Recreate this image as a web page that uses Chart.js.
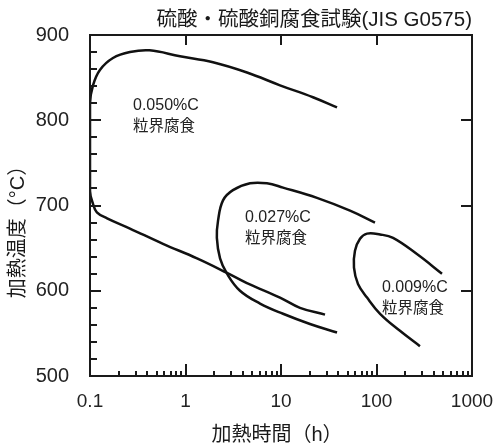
<!DOCTYPE html>
<html>
<head>
<meta charset="utf-8">
<script src="https://cdn.jsdelivr.net/npm/chart.js@4.4.0/dist/chart.umd.min.js"></script>
<style>
  html, body { margin: 0; padding: 0; background: #fff; }
  #wrap { width: 496px; height: 445px; }
</style>
</head>
<body>
<div id="wrap"><canvas id="c" width="496" height="445"></canvas></div>
<script>
// Axis ticks
const timeTicks = [0.1, 1, 10, 100, 1000];
const tempTicks = [500, 600, 700, 800, 900];

// Sensitization (C-curve) boundaries
const c050Time = [38.6, 21.6, 9.76, 4.4, 1.94, 0.876, 0.42, 0.262, 0.174, 0.127, 0.1075, 0.1, 0.1, 0.1075, 0.118, 0.151, 0.262, 0.581, 1.32, 2.72, 4.4, 9.76, 15.8, 28.9];
const c050Temp = [815, 827, 841, 856, 868, 875, 882, 880, 873, 859, 841, 820, 717, 702, 692, 685, 673, 655, 638, 621, 609, 592, 580, 572];

const c027Time = [96.4, 52.8, 23.8, 10.5, 7.13, 4.74, 3.14, 2.47, 2.19, 2.13, 2.3, 2.72, 3.72, 6.03, 10.5, 20.1, 38.6];
const c027Temp = [680, 694, 709, 721, 726, 726, 718, 706, 682, 662, 638, 620, 600, 585, 573, 561, 551];

const c009Time = [485, 265, 149, 109, 79.6, 67.2, 59.5, 58.1, 64, 79.6, 109, 176, 285];
const c009Temp = [620, 643, 662, 666, 667, 661, 647, 627, 608, 592, 573, 553, 535];

const carbonLabels = ['0.050%C', '0.027%C', '0.009%C'];
const regionLabel = '粒界腐食';

const chartTitle = '硫酸・硫酸銅腐食試験(JIS G0575)';
const xTitle = '加熱時間（h）';
const yTitle = '加熱温度（°C）';

// Where each curve's caption sits (time, temperature of first line)
const captionAnchors = [
  { x: 0.282, y: 817 },
  { x: 4.2, y: 686 },
  { x: 114, y: 604 }
];

const FONT = '"Liberation Sans", Arial, "Noto Sans CJK JP", sans-serif';
const INK = '#1a1a1a';

function toPoints(ts, vs) { return ts.map((t, i) => ({ x: t, y: vs[i] })); }

function curve(ts, vs) {
  return {
    data: toPoints(ts, vs),
    showLine: true,
    borderColor: '#111',
    borderWidth: 2.5,
    pointRadius: 0,
    tension: 0.4,
    fill: false
  };
}

// Frame with inward tick marks, captions and axis titles
const decorPlugin = {
  id: 'decor',
  afterDatasetsDraw(chart) {
    const { ctx, chartArea: a, scales: { x, y } } = chart;
    ctx.save();
    ctx.strokeStyle = INK;
    ctx.lineWidth = 2;
    ctx.strokeRect(a.left, a.top, a.right - a.left, a.bottom - a.top);

    ctx.beginPath();
    for (let v = 520; v < 900; v += 20) {
      const py = Math.round(y.getPixelForValue(v));
      const major = v % 100 === 0;
      ctx.moveTo(a.left, py);
      ctx.lineTo(a.left + (major ? 11 : 7), py);
      if (major) {
        ctx.moveTo(a.right, py);
        ctx.lineTo(a.right - 11, py);
      }
    }
    for (let e = -1; e <= 2; e++) {
      for (let m = 1; m <= 9; m++) {
        if (e === -1 && m === 1) continue;
        const v = m * Math.pow(10, e);
        const px = Math.round(x.getPixelForValue(v));
        const major = m === 1;
        ctx.moveTo(px, a.bottom);
        ctx.lineTo(px, a.bottom - (major ? 12 : 5));
        if (major) {
          ctx.moveTo(px, a.top);
          ctx.lineTo(px, a.top + 10);
        }
      }
    }
    ctx.stroke();

    // captions
    ctx.fillStyle = '#222';
    ctx.textAlign = 'left';
    ctx.textBaseline = 'middle';
    captionAnchors.forEach((p, i) => {
      const px = x.getPixelForValue(p.x);
      const py = y.getPixelForValue(p.y);
      ctx.font = '16px ' + FONT;
      ctx.fillText(carbonLabels[i], px, py);
      ctx.font = '15.5px ' + FONT;
      ctx.fillText(regionLabel, px, py + 21);
    });

    // title
    ctx.fillStyle = '#1a1a1a';
    ctx.font = '20.5px ' + FONT;
    ctx.textAlign = 'right';
    ctx.fillText(chartTitle, a.right, 20);

    // axis titles
    ctx.font = '20px ' + FONT;
    ctx.textAlign = 'center';
    ctx.fillText(xTitle, 277, 435);
    ctx.save();
    ctx.translate(18, 227);
    ctx.rotate(-Math.PI / 2);
    ctx.fillText(yTitle, 0, 0);
    ctx.restore();

    ctx.restore();
  }
};

new Chart(document.getElementById('c'), {
  type: 'scatter',
  data: {
    datasets: [
      curve(c050Time, c050Temp),
      curve(c027Time, c027Temp),
      curve(c009Time, c009Temp)
    ]
  },
  options: {
    responsive: false,
    devicePixelRatio: 1,
    animation: false,
    layout: { padding: { top: 35, right: 24, left: 0, bottom: 0 } },
    plugins: { legend: { display: false }, tooltip: { enabled: false }, title: { display: false } },
    scales: {
      x: {
        type: 'logarithmic',
        min: 0.1,
        max: 1000,
        position: 'bottom',
        afterBuildTicks: s => { s.ticks = timeTicks.map(v => ({ value: v })); },
        afterFit: s => { s.height = 69; s.paddingLeft = 0; s.paddingRight = 0; },
        grid: { display: false },
        border: { display: false },
        ticks: {
          autoSkip: false,
          maxRotation: 0,
          padding: 6,
          color: '#222',
          font: { size: 19, family: FONT },
          callback: v => String(v)
        }
      },
      y: {
        type: 'linear',
        min: 500,
        max: 900,
        afterBuildTicks: s => { s.ticks = tempTicks.map(v => ({ value: v })); },
        afterFit: s => { s.width = 90; s.paddingTop = 0; s.paddingBottom = 0; },
        grid: { display: false },
        border: { display: false },
        ticks: {
          padding: 13,
          color: '#222',
          font: { size: 20, family: FONT },
          callback: v => String(v)
        }
      }
    }
  },
  plugins: [decorPlugin]
});
</script>
</body>
</html>
